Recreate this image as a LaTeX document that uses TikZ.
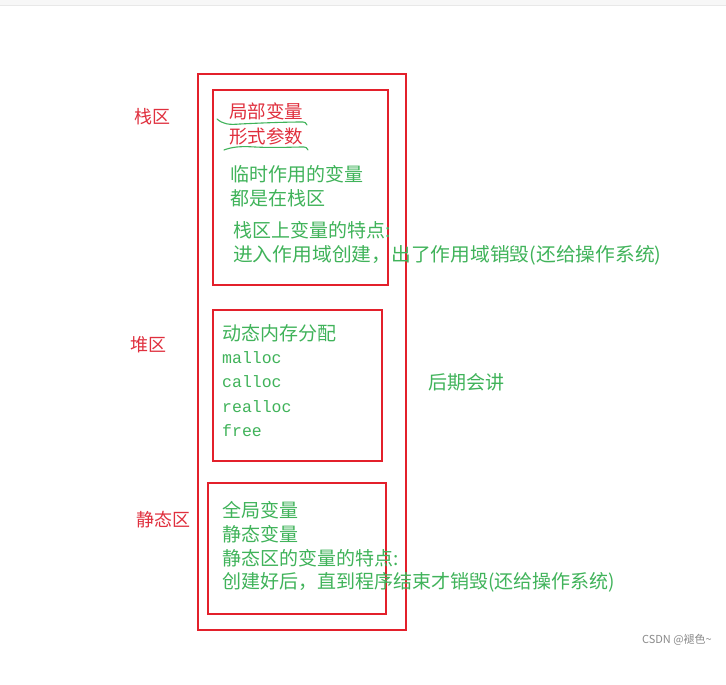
\documentclass[tikz,border=0pt]{standalone}
\usepackage{fontspec}
\setmainfont{Noto Sans CJK SC}
\newfontfamily\cjk{Noto Sans CJK SC}
\newfontfamily\monof{Liberation Mono}
\definecolor{boxred}{HTML}{E3202B}
\definecolor{lblred}{HTML}{E0303E}
\definecolor{txtgreen}{HTML}{40B35A}
\definecolor{wmgray}{HTML}{8A8A8A}
\tikzset{
  frame/.style={draw=boxred, line width=1.6pt},
  lbl/.style={text=lblred, font=\cjk\fontsize{18}{20}\selectfont, inner sep=0pt},
  gtxt/.style={text=txtgreen, font=\cjk\fontsize{19}{22}\selectfont, anchor=west, inner sep=0pt},
  rtxt/.style={text=lblred, font=\cjk\fontsize{18.5}{22}\selectfont, anchor=west, inner sep=0pt},
  mtxt/.style={text=txtgreen, font=\monof\fontsize{16.5}{20}\selectfont, anchor=west, inner sep=0pt},
  wave/.style={draw=txtgreen, line width=1.1pt, line cap=round}
}
\begin{document}
\begin{tikzpicture}[x=1pt,y=-1pt]
\useasboundingbox (0,0) rectangle (726,685);
\fill[white] (0,0) rectangle (726,685);
\fill[gray!6] (0,0) rectangle (726,5);
\draw[gray!18, line width=0.8pt] (0,5) -- (726,5);
% outer frame and inner boxes
\draw[frame] (198,74) rectangle (406,630);
\draw[frame] (213,90) rectangle (388,285);
\draw[frame] (213,310) rectangle (382,461);
\draw[frame] (208,483) rectangle (386,614);
% region labels
\node[lbl] (stack) at (152,117) {栈区};
\node[lbl] (heap) at (148,345) {堆区};
\node[lbl] (static) at (163,520) {静态区};
\node[gtxt] (later) at (428,382) {后期会讲};
% box 1
\node[rtxt] (local) at (229,111) {局部变量};
\node[rtxt] (param) at (229,136) {形式参数};
\draw[wave] (217,119) .. controls (223,124) and (228,125) .. (240,124) .. controls (260,123) and (285,122) .. (303,122) .. controls (305,122) and (306,123) .. (307,125);
\draw[wave] (224,150) .. controls (232,147) and (240,146) .. (255,147) .. controls (275,148) and (292,147) .. (304,147) .. controls (306,147) and (307,148) .. (308,150);
\node[gtxt] (tmp) at (230,174) {临时作用的变量};
\node[gtxt] (all) at (230,198) {都是在栈区};
\node[gtxt] (feat1) at (233,230) {栈区上变量的特点:};
\node[gtxt, transform shape, xscale=1.04] (life1) at (233,255) {进入作用域创建，出了作用域销毁(还给操作系统)};
% box 2
\node[gtxt] (dyn) at (222,333) {动态内存分配};
\node[mtxt] (m1) at (222,358) {malloc};
\node[mtxt] (m2) at (222,382) {calloc};
\node[mtxt] (m3) at (222,407) {realloc};
\node[mtxt] (m4) at (222,431) {free};
% box 3
\node[gtxt] (glob) at (222,510) {全局变量};
\node[gtxt] (svar) at (222,534) {静态变量};
\node[gtxt] (feat3) at (222,558) {静态区的变量的特点:};
\node[gtxt] (life3) at (222,582) {创建好后，直到程序结束才销毁(还给操作系统)};
% watermark
\node[text=wmgray, font=\cjk\fontsize{11}{13}\selectfont, anchor=east, inner sep=0pt] (csdn) at (712,640) {CSDN @褪色\textasciitilde};
\end{tikzpicture}
\end{document}
